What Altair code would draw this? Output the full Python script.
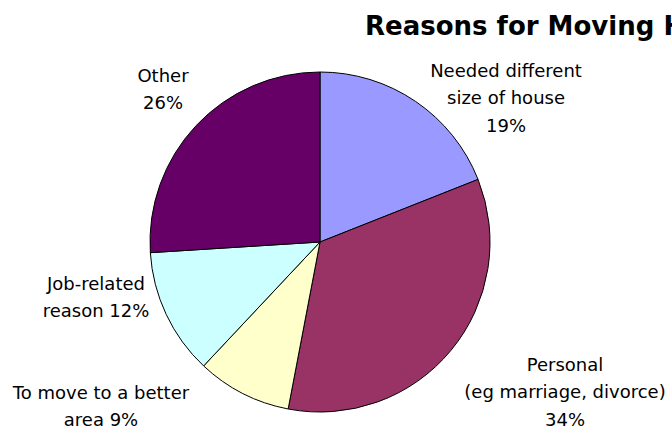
import altair as alt
import pandas as pd

# ---- data ----
categories = [
    "Needed different size of house",
    "Personal (eg marriage, divorce)",
    "To move to a better area",
    "Job-related reason",
    "Other",
]
shares = [19, 34, 9, 12, 26]
label_lines = [
    ["Needed different", "size of house", "19%"],
    ["Personal", "(eg marriage, divorce)", "34%"],
    ["To move to a better", "area 9%"],
    ["Job-related", "reason 12%"],
    ["Other", "26%"],
]
title_text = "Reasons for Moving House"

# ---- styles / layout ----
colors = ["#9999FF", "#993366", "#FFFFCC", "#CCFFFF", "#660066"]
label_x = [506, 565, 101, 96, 163]
label_y = [76.5, 370.5, 398.5, 289.5, 81.5]
W, H = 672, 429
CX, CY, R = 320, 242, 170
FONT = "DejaVu Sans"

pie_df = pd.DataFrame({"category": categories, "share": shares, "order": list(range(len(categories)))})
lab_df = pd.DataFrame({"lines": label_lines, "lx": label_x, "ly": label_y})
title_df = pd.DataFrame({"t": [title_text]})

pie = alt.Chart(pie_df).mark_arc(outerRadius=R, stroke="black", strokeWidth=1).encode(
    theta=alt.Theta("share:Q", stack=True),
    order=alt.Order("order:Q"),
    color=alt.Color("category:N", scale=alt.Scale(domain=categories, range=colors), legend=None),
    x=alt.value(CX),
    y=alt.value(CY),
)

labels = alt.Chart(lab_df).mark_text(
    font=FONT, fontSize=18, color="black", align="center", baseline="alphabetic", lineHeight=27.5
).encode(
    x=alt.X("lx:Q", scale=None, axis=None),
    y=alt.Y("ly:Q", scale=None, axis=None),
    text=alt.Text("lines"),
)

title = alt.Chart(title_df).mark_text(
    font=FONT, fontSize=26, fontWeight="bold", color="black", align="left", baseline="alphabetic"
).encode(
    x=alt.value(365),
    y=alt.value(35),
    text=alt.Text("t:N"),
)

chart = alt.layer(pie, labels, title).properties(
    width=W, height=H, padding=0, autosize=alt.AutoSizeParams(type="none"), background="white"
).configure_view(strokeWidth=0)

chart.save("out.html", embed_options={"renderer": "svg", "actions": False})
